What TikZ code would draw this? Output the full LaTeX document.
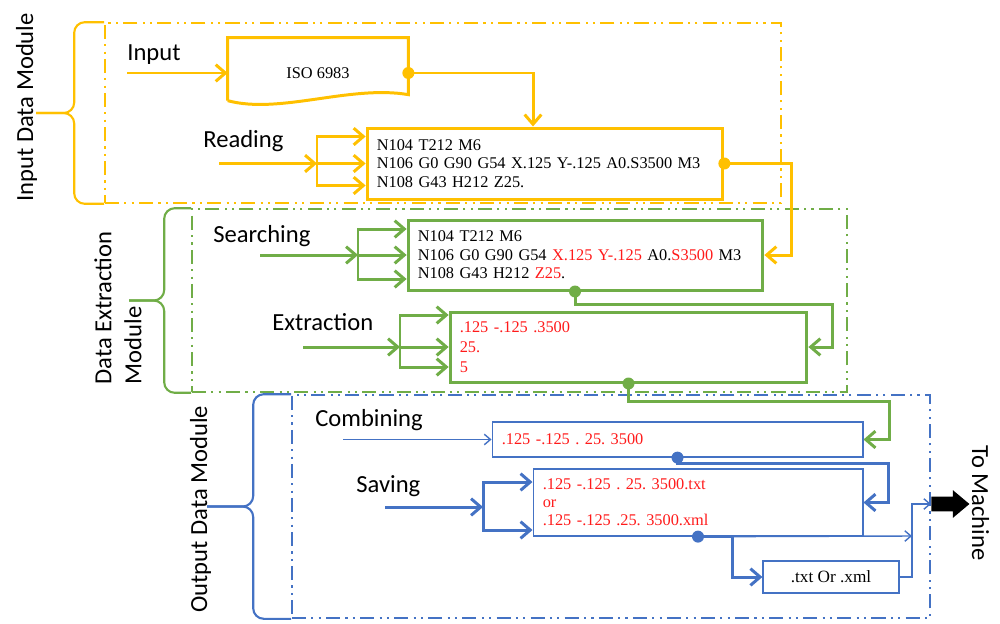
\documentclass[tikz,border=0pt]{standalone}
\usepackage{fontspec}
\setmainfont{Liberation Serif}
\newfontfamily\lblfont{Carlito}
\usetikzlibrary{arrows.meta,shapes.arrows,calc}
\definecolor{orng}{HTML}{FFC000}
\definecolor{grn}{HTML}{70AD47}
\definecolor{blu}{HTML}{4472C4}
\definecolor{hired}{HTML}{FF1A1A}
\newcommand\pxu{0.02cm}
\newcommand\redtxt[1]{\textcolor{hired}{#1}}
\frenchspacing

\begin{document}
\begin{tikzpicture}
[x=0.02cm,y=-0.02cm,
%
module/.style={rectangle,line width=0.9pt,minimum width=#1,
  dash pattern=on 8pt off 3pt on 1.2pt off 3pt on 1.2pt off 3pt},
brace/.style={line width=1.2pt,rounded corners=6pt},
codebox/.style={rectangle,inner xsep=5.5pt,inner ysep=0pt,align=left,
  font=\fontsize{9.3}{10.5}\selectfont},
lbl/.style={anchor=base west,inner sep=0pt,font=\lblfont\fontsize{14}{16}\selectfont},
modlabel/.style={inner sep=0pt,font=\lblfont\fontsize{14}{17}\selectfont},
%
oline/.style={draw=orng,line width=1.7pt},
gline/.style={draw=grn,line width=1.7pt},
oarrow/.style={oline,-{Straight Barb[length=5.5pt,width=9.5pt]}},
garrow/.style={gline,-{Straight Barb[length=5.5pt,width=9.5pt]}},
barrow/.style={draw=blu,line width=1.7pt,-{Straight Barb[length=5.5pt,width=9.5pt]}},
bthin/.style={draw=blu,line width=0.8pt,-{Straight Barb[length=3.5pt,width=6pt]}},
odot/.style={circle,fill=orng,inner sep=0pt,minimum size=12*\pxu},
gdot/.style={odot,fill=grn},
bdot/.style={odot,fill=blu}]
%
\useasboundingbox (0,0) rectangle (1000,623);
%
%% module frames
\node[module=676*\pxu,draw=orng,minimum height=180*\pxu] (inmod) at (443,113) {};
\node[module=655*\pxu,draw=grn,minimum height=183*\pxu] (extmod) at (519.5,300.5) {};
\node[module=638*\pxu,draw=blu,minimum height=223*\pxu] (outmod) at (611,506.5) {};
%
%% braces
\foreach \m/\c/\d/\t in {inmod/orng/30/68,extmod/grn/27/62,outmod/blu/38/84}{
  \draw[brace,draw=\c] (\m.north west) -| ([xshift=-\d*\pxu]\m.west) -- ([xshift=-\t*\pxu]\m.west);
  \draw[brace,draw=\c] ([xshift=-\t*\pxu]\m.west) -- ([xshift=-\d*\pxu]\m.west) |- (\m.south west);
}
%
%% module labels
\node[modlabel,rotate=90,anchor=base west] (inmodlbl) at (33,202) {Input Data Module};
\node[modlabel,rotate=90,align=left] (extmodlbl) at (118,308) {Data Extraction\\Module};
\node[modlabel,rotate=90,anchor=base west] (outmodlbl) at (207,613) {Output Data Module};
\node[modlabel,rotate=-90,anchor=base west] (machlbl) at (972,445) {To Machine};
%
%% step labels
\node[lbl] (inlbl) at (127,60) {Input};
\node[lbl] (rdlbl) at (203,147) {Reading};
\node[lbl] (srlbl) at (213,242) {Searching};
\node[lbl] (exlbl) at (272,330) {Extraction};
\node[lbl] (cblbl) at (315,426) {Combining};
\node[lbl] (svlbl) at (356,492) {Saving};
%
%% boxes
\node[inner sep=0pt,minimum width=180*\pxu,minimum height=70*\pxu,
  font=\fontsize{9.3}{11}\selectfont] (iso) at (318,73) {ISO 6983};
\draw[oline,line join=miter] ([yshift=-63*\pxu]iso.north west) -- (iso.north west)
  -- (iso.north east) -- ([yshift=-57*\pxu]iso.north east)
  .. controls +(-58,-10) and +(52,14) .. ([yshift=-63*\pxu]iso.north west);
%
\node[codebox,draw=orng,line width=1.7pt,text width=6.73cm,minimum height=71*\pxu] (read)
  at (545,163.5) {N104 T212 M6\\N106 G0 G90 G54 X.125 Y-.125 A0.S3500 M3\\N108 G43 H212 Z25.};
\node[codebox,draw=grn,line width=1.7pt,text width=6.71cm,minimum height=70*\pxu] (search)
  at (585.5,255) {N104 T212 M6\\N106 G0 G90 G54 \redtxt{X.125 Y-.125} A0.\redtxt{S3500} M3\\N108 G43 H212 \redtxt{Z25}.};
\node[codebox,draw=grn,line width=1.7pt,text width=6.75cm,minimum height=70*\pxu,text=hired,
  font=\fontsize{9.3}{11.4}\selectfont] (extract)
  at (628.5,347) {.125 -.125 .3500\\25.\\5};
\node[codebox,draw=blu,line width=0.7pt,text width=7.03cm,minimum height=35*\pxu,text=hired] (comb)
  at (677.5,439.5) {.125 -.125 . 25. 3500};
\node[codebox,draw=blu,line width=0.7pt,text width=6.21cm,minimum height=67*\pxu,text=hired,
  font=\fontsize{9.3}{10.2}\selectfont] (save)
  at (698,502.5) {.125 -.125 . 25. 3500.txt\\or\\.125 -.125 .25. 3500.xml};
\node[draw=blu,line width=0.7pt,minimum width=136*\pxu,minimum height=32*\pxu,
  font=\fontsize{9.8}{11}\selectfont] (fmt) at (831,577) {.txt Or .xml};
\node[single arrow,fill=black,inner xsep=0pt,inner ysep=4pt,minimum height=38*\pxu,
  single arrow head extend=3.7pt,single arrow head indent=0pt,single arrow tip angle=80] (tomach)
  at (946,504) {};
%
%% input data module
\coordinate (in0) at (127,73);
\draw[oarrow] (in0) -- (iso.west);
\node[odot] (isod) at (iso.east) {};
\draw[oarrow] (isod.center) -| ([xshift=-12*\pxu]read.north);
\coordinate (rd0) at (219,163.5);
\coordinate (rdf) at (317,163.5);
\draw[oarrow] (rd0) -- (rdf);
\foreach \dy in {27,0,-22}
  \draw[oarrow] (rdf) |- ([yshift=\dy*\pxu]read.west);
\node[odot] (readd) at (read.east) {};
\draw[oarrow] (readd.center) -- ++(67,0) |- (search.east);
%
%% data extraction module
\coordinate (sr0) at (260,255);
\coordinate (srf) at (358,255);
\draw[garrow] (sr0) -- (srf);
\foreach \dy in {26,0,-24}
  \draw[garrow] (srf) |- ([yshift=\dy*\pxu]search.west);
\node[gdot] (searchd) at ([xshift=-10.5*\pxu]search.south) {};
\draw[garrow] (searchd.center) -- ++(0,13) -| ([xshift=24*\pxu]extract.east) -- (extract.east);
\coordinate (ex0) at (303,347);
\coordinate (exf) at (400,347);
\draw[garrow] (ex0) -- (exf);
\foreach \dy in {32,0,-20}
  \draw[garrow] (exf) |- ([yshift=\dy*\pxu]extract.west);
\node[gdot] (extractd) at (extract.south) {};
\draw[garrow] (extractd.center) -- ++(0,18) -| ([xshift=26*\pxu]comb.east) -- (comb.east);
%
%% output data module
\coordinate (cb0) at (343,439.5);
\draw[bthin] (cb0) -- (comb.west);
\node[bdot] (combd) at (comb.south) {};
\draw[barrow] (combd.center) -- ++(0,6) -| ([xshift=25*\pxu]save.east) -- (save.east);
\coordinate (sv0) at (385,507);
\coordinate (svf) at (483,507);
\draw[barrow] (sv0) -- (svf);
\foreach \dy in {20.5,-27.5}
  \draw[barrow] (svf) |- ([yshift=\dy*\pxu]save.west);
\node[bdot] (saved) at (save.south) {};
\draw[barrow] (saved.center) -- ++(34,0) |- (fmt.west);
\coordinate (svj) at ([xshift=34*\pxu]save.south);
\coordinate (mj) at (912,536);
\draw[bthin] (svj) -- (mj);
\draw[bthin] (fmt.east) -| (mj) |- (tomach.west);
\end{tikzpicture}
\end{document}
